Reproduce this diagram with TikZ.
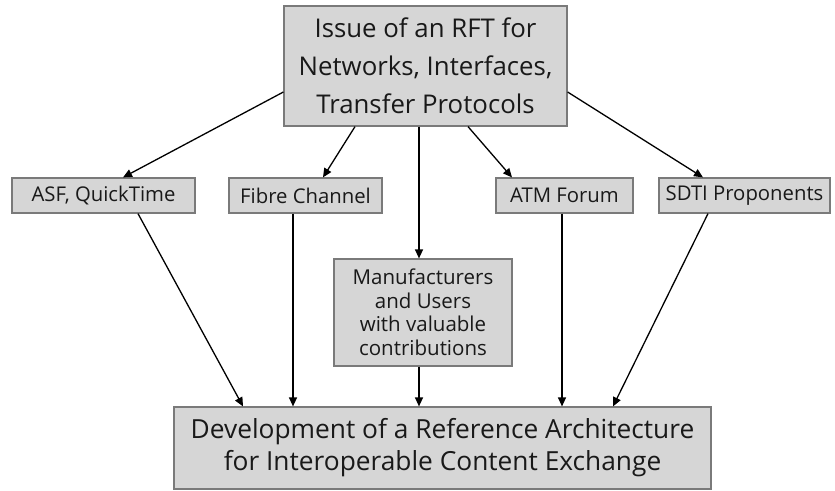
\documentclass[tikz,border=0pt]{standalone}
\usepackage{fontspec}
\setmainfont{Open Sans}
\usetikzlibrary{arrows.meta,calc}
\definecolor{boxfill}{HTML}{D6D6D6}
\definecolor{boxline}{HTML}{7A7A7A}
\begin{document}
\begin{tikzpicture}[x=1pt,y=-1pt,
  box/.style={draw=boxline,line width=1.2pt,fill=boxfill,inner sep=0pt,align=center,text=black!90},
  bigbox/.style={box,font=\fontsize{25.8}{38}\selectfont},
  smallbox/.style={box,minimum height=35pt,font=\fontsize{20.3}{23}\selectfont},
  arr/.style={line width=1.3pt,-{Triangle[length=9pt,width=8pt]}}]
\useasboundingbox[fill=white] (0,0) rectangle (835,490);
\node[bigbox,minimum width=283pt,minimum height=120pt] (top) at (425.5,66)
  {Issue of an RFT for\\Networks, Interfaces,\\Transfer Protocols};
\node[smallbox,minimum width=183pt] (asf) at (103.5,195.5) {ASF, QuickTime};
\node[smallbox,minimum width=153pt] (fibre) at (305.5,195.5) {Fibre Channel};
\node[smallbox,minimum width=137pt] (atm) at (564.5,195.5) {ATM Forum};
\node[smallbox,minimum width=171pt] (sdti) at (744.5,195.5) {SDTI Proponents};
\node[box,minimum width=178pt,minimum height=107pt,font=\fontsize{20.5}{23.5}\selectfont] (manu) at (423,312.5)
  {Manufacturers\\and Users\\with valuable\\contributions};
\node[box,minimum width=537pt,minimum height=82pt,font=\fontsize{26.3}{32}\selectfont] (dev) at (442.5,448)
  {Development of a Reference Architecture\\for Interoperable Content Exchange};
% from the top box
\draw[arr] ([yshift=-26pt]top.west) -- ([xshift=19.5pt]asf.north);
\draw[arr] ([xshift=-70.5pt]top.south) -- ([xshift=17.5pt]fibre.north);
\draw[arr] ([xshift=-6.5pt]top.south) -- ([xshift=-6.5pt]top.south |- manu.north);
\draw[arr] ([xshift=42.5pt]top.south) -- ([xshift=-52.5pt]atm.north);
\draw[arr] ([yshift=-26pt]top.east) -- ([xshift=-41.5pt]sdti.north);
% to the bottom box
\draw[arr] ([xshift=34.5pt]asf.south) -- ([xshift=-199.5pt]dev.north);
\draw[arr] ([xshift=-12.5pt]fibre.south) -- ([xshift=-12.5pt]fibre.south |- dev.north);
\draw[arr] ([xshift=-4pt]manu.south) -- ([xshift=-4pt]manu.south |- dev.north);
\draw[arr] ([xshift=-2.5pt]atm.south) -- ([xshift=-2.5pt]atm.south |- dev.north);
\draw[arr] ([xshift=-36.5pt]sdti.south) -- ([xshift=170.5pt]dev.north);
\end{tikzpicture}
\end{document}
